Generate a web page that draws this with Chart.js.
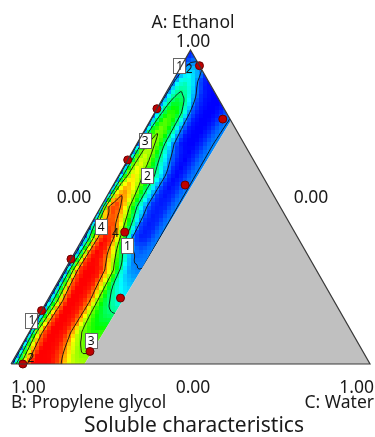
<!DOCTYPE html>
<html lang="en">
<head>
<meta charset="UTF-8">
<title>Soluble characteristics</title>
<script src="https://cdn.jsdelivr.net/npm/chart.js"></script>
<style>
    html, body { margin: 0; padding: 0; background: #fff; }
    #wrap { position: relative; width: 375px; height: 437px; }
</style>
</head>
<body>
<div id="wrap"><canvas id="tern"></canvas></div>
<script>
const H = Math.sqrt(3) / 2;

// response: one row per ethanol (A) level, one column per water (C) level
const aLevels = [0, 0.1, 0.2, 0.3, 0.4, 0.5, 0.6, 0.7, 0.8, 0.9, 1.0];
const cLevels = [0, 0.02, 0.04, 0.06, 0.08, 0.10, 0.12, 0.14, 0.16, 0.18, 0.20, 0.22];
const respA00 = [0.6, 2.5, 3.8, 4.5, 4.5, 4.5, 4.4, 4.0, 3.4, 3.2, 3.15, 3.1];
const respA10 = [0.8, 3.0, 4.2, 4.5, 4.5, 4.4, 3.9, 3.1, 2.8, 2.6, 2.7, 2.7];
const respA20 = [0.7, 2.3, 3.9, 4.5, 4.5, 4.4, 4.0, 3.0, 2.3, 1.9, 1.6, 1.5];
const respA30 = [0.6, 2.7, 4.3, 4.5, 4.5, 4.4, 3.7, 2.8, 1.6, 1.1, 1.0, 1.0];
const respA40 = [0.6, 2.2, 4.0, 4.5, 4.3, 3.2, 2.0, 0.8, 0.6, 0.65, 0.9, 1.05];
const respA50 = [1.0, 4.0, 4.3, 3.9, 3.0, 2.0, 1.2, 0.7, 0.6, 0.65, 0.9, 1.05];
const respA60 = [0.8, 2.8, 3.6, 3.2, 2.6, 2.0, 1.3, 0.7, 0.5, 0.65, 0.9, 1.05];
const respA70 = [0.8, 2.8, 3.2, 2.8, 1.9, 1.1, 0.6, 0.5, 0.5, 0.65, 0.9, 1.05];
const respA80 = [0.9, 2.0, 2.7, 2.6, 1.8, 0.9, 0.6, 0.5, 0.5, 0.6, 0.85, 1.0];
const respA90 = [0.8, 1.6, 1.7, 1.3, 0.7, 0.5, 0.5, 0.5, 0.5, 0.5, 0.5, 0.5];
const respA100 = [0.6, 0.6, 0.6, 0.6, 0.6, 0.6, 0.6, 0.6, 0.6, 0.6, 0.6, 0.6];
const response = [respA00, respA10, respA20, respA30, respA40, respA50, respA60, respA70, respA80, respA90, respA100];

const contourLevels = [1, 2, 3, 4];
const colorMin = 0.5, colorMax = 4.5;

// water limit of the design space (left of it is coloured, right of it grey)
const limitBottomC = 0.205;   // at A = 0
const limitTop = { a: 0.775, c: 0.225 };  // where it meets the B = 0 edge

// design points (A, C)
const ptA = [0.95, 0.813, 0.78, 0.65, 0.57, 0.334, 0.42, 0.21, 0.17, 0.04, 0.0];
const ptC = [0.05, 0.0, 0.2, 0.0, 0.2, 0.0, 0.107, 0.2, 0.0, 0.2, 0.033];

// contour labels (text, A, C, boxed)
const lblText = ['1', '2', '3', '2', '4', '4', '1', '1', '3', '2'];
const lblA = [0.951, 0.94, 0.7125, 0.601, 0.437, 0.419, 0.378, 0.14, 0.076, 0.02];
const lblC = [-0.007, 0.025, 0.016, 0.078, 0.031, 0.08, 0.134, -0.013, 0.184, 0.044];
const lblBox = [true, false, true, true, true, false, true, true, true, false];

function toXY(a, c) { return { x: c + a / 2, y: a * H }; }

function field(a, c) {
    const da = aLevels[1] - aLevels[0], dc = cLevels[1] - cLevels[0];
    a = Math.max(0, Math.min(1, a));
    c = Math.max(0, Math.min(cLevels[cLevels.length - 1], c));
    let i = Math.min(Math.floor(a / da), aLevels.length - 2);
    let j = Math.min(Math.floor(c / dc), cLevels.length - 2);
    const ti = a / da - i, tj = c / dc - j;
    const v00 = response[i][j], v01 = response[i][j + 1];
    const v10 = response[i + 1][j], v11 = response[i + 1][j + 1];
    return (v00 * (1 - tj) + v01 * tj) * (1 - ti) + (v10 * (1 - tj) + v11 * tj) * ti;
}

const stops = [[0, 0, 0, 255], [0.25, 0, 255, 255], [0.5, 0, 255, 0], [0.75, 255, 255, 0], [1, 255, 0, 0]];
function colorFor(v) {
    let t = (v - colorMin) / (colorMax - colorMin);
    t = Math.max(0, Math.min(1, t));
    for (let k = 1; k < stops.length; k++) {
        if (t <= stops[k][0]) {
            const s0 = stops[k - 1], s1 = stops[k];
            const f = (t - s0[0]) / (s1[0] - s0[0]);
            const r = Math.round(s0[1] + (s1[1] - s0[1]) * f);
            const g = Math.round(s0[2] + (s1[2] - s0[2]) * f);
            const b = Math.round(s0[3] + (s1[3] - s0[3]) * f);
            return 'rgb(' + r + ',' + g + ',' + b + ')';
        }
    }
    return 'rgb(255,0,0)';
}

const ternaryMap = {
    id: 'ternaryMap',
    beforeDatasetsDraw(chart) {
        const { ctx, scales } = chart;
        const xs = scales.x, ys = scales.y;
        const px = (a, c) => { const p = toXY(a, c); return [xs.getPixelForValue(p.x), ys.getPixelForValue(p.y)]; };
        const tern = (X, Y) => { const a = ys.getValueForPixel(Y) / H; return [a, xs.getValueForPixel(X) - a / 2]; };

        const region = [px(0, 0), px(0, limitBottomC), px(limitTop.a, limitTop.c), px(1, 0)];
        const xMin = region[0][0], xMax = region[2][0], yMin = region[3][1], yMax = region[0][1];

        ctx.save();
        ctx.beginPath();
        region.forEach((p, k) => k ? ctx.lineTo(p[0], p[1]) : ctx.moveTo(p[0], p[1]));
        ctx.closePath();
        ctx.clip();

        // colour cells
        const cell = 4;
        for (let Y = Math.floor(yMin) - cell; Y < yMax + cell; Y += cell) {
            for (let X = Math.floor(xMin) - cell; X < xMax + cell; X += cell) {
                const [a, c] = tern(X + cell / 2, Y + cell / 2);
                if (a < -0.02 || c < -0.03 || c > 0.25 || a + c > 1.03) continue;
                ctx.fillStyle = colorFor(field(a, c));
                ctx.fillRect(X, Y, cell, cell);
            }
        }

        // contour lines (marching squares)
        const s = 2;
        const nx = Math.ceil((xMax - xMin) / s) + 2, ny = Math.ceil((yMax - yMin) / s) + 2;
        const x0 = xMin - s, y0 = yMin - s;
        const grid = [];
        for (let r = 0; r <= ny; r++) {
            const row = [];
            for (let q = 0; q <= nx; q++) {
                const [a, c] = tern(x0 + q * s, y0 + r * s);
                row.push(field(a, c));
            }
            grid.push(row);
        }
        ctx.strokeStyle = '#111';
        ctx.lineWidth = 0.9;
        ctx.beginPath();
        contourLevels.forEach(L => {
            for (let r = 0; r < ny; r++) {
                for (let q = 0; q < nx; q++) {
                    const tl = grid[r][q], tr = grid[r][q + 1], br = grid[r + 1][q + 1], bl = grid[r + 1][q];
                    const X = x0 + q * s, Y = y0 + r * s;
                    const pts = [];
                    if ((tl - L) * (tr - L) < 0) pts.push([X + s * (L - tl) / (tr - tl), Y]);
                    if ((tr - L) * (br - L) < 0) pts.push([X + s, Y + s * (L - tr) / (br - tr)]);
                    if ((bl - L) * (br - L) < 0) pts.push([X + s * (L - bl) / (br - bl), Y + s]);
                    if ((tl - L) * (bl - L) < 0) pts.push([X, Y + s * (L - tl) / (bl - tl)]);
                    for (let k = 0; k + 1 < pts.length; k += 2) {
                        ctx.moveTo(pts[k][0], pts[k][1]);
                        ctx.lineTo(pts[k + 1][0], pts[k + 1][1]);
                    }
                }
            }
        });
        ctx.stroke();
        ctx.restore();

        // grey region outside the limit
        const grey = [px(0, limitBottomC), px(0, 1), px(limitTop.a, limitTop.c)];
        ctx.save();
        ctx.fillStyle = '#c0c0c0';
        ctx.beginPath();
        grey.forEach((p, k) => k ? ctx.lineTo(p[0], p[1]) : ctx.moveTo(p[0], p[1]));
        ctx.closePath();
        ctx.fill();
        ctx.restore();

        // contour labels
        ctx.save();
        ctx.font = '12px "Noto Sans", sans-serif';
        ctx.textAlign = 'center';
        ctx.textBaseline = 'middle';
        lblText.forEach((t, k) => {
            const [X, Y] = px(lblA[k], lblC[k]);
            if (lblBox[k]) {
                ctx.fillStyle = '#fff';
                ctx.strokeStyle = '#666';
                ctx.lineWidth = 1;
                ctx.fillRect(Math.round(X - 6) + 0.5, Math.round(Y - 7.5) + 0.5, 12, 15);
                ctx.strokeRect(Math.round(X - 6) + 0.5, Math.round(Y - 7.5) + 0.5, 12, 15);
            }
            ctx.fillStyle = '#111';
            ctx.fillText(t, X + 0.5, Y + 1);
        });
        ctx.restore();
    }
};

const ternaryText = {
    id: 'ternaryText',
    afterDraw(chart) {
        const { ctx } = chart;
        ctx.save();
        ctx.fillStyle = '#1a1a1a';
        ctx.textBaseline = 'alphabetic';
        ctx.font = '17.5px "Noto Sans", sans-serif';
        ctx.textAlign = 'center';
        ctx.fillText('A: Ethanol', 193, 28);
        ctx.fillText('1.00', 193, 47);
        ctx.fillText('0.00', 74, 203);
        ctx.fillText('0.00', 311, 203);
        ctx.fillText('0.00', 193, 393);
        ctx.textAlign = 'left';
        ctx.fillText('1.00', 11, 393);
        ctx.fillText('B: Propylene glycol', 11, 408);
        ctx.textAlign = 'right';
        ctx.fillText('1.00', 374, 393);
        ctx.fillText('C: Water', 374, 408);
        ctx.textAlign = 'center';
        ctx.font = '21px "Noto Sans", sans-serif';
        ctx.fillText('Soluble characteristics', 194, 432);
        ctx.restore();
    }
};

const outline = [toXY(0, 0), toXY(1, 0), toXY(0, 1), toXY(0, 0)];
const designPts = ptA.map((a, k) => toXY(a, ptC[k]));

new Chart(document.getElementById('tern'), {
    type: 'scatter',
    data: {
        datasets: [
            {
                data: outline,
                showLine: true,
                borderColor: '#3a3a3a',
                borderWidth: 1.2,
                pointRadius: 0,
                clip: false
            },
            {
                data: designPts,
                pointRadius: 4,
                backgroundColor: '#c00000',
                borderColor: '#6a0000',
                borderWidth: 1,
                clip: false
            }
        ]
    },
    options: {
        responsive: true,
        maintainAspectRatio: false,
        animation: false,
        layout: { padding: { left: 11, right: 1, top: 50, bottom: 73 } },
        scales: {
            x: { type: 'linear', min: 0, max: 1, display: false },
            y: { type: 'linear', min: 0, max: H, display: false }
        },
        plugins: {
            legend: { display: false },
            tooltip: { enabled: false }
        }
    },
    plugins: [ternaryMap, ternaryText]
});
</script>
</body>
</html>
